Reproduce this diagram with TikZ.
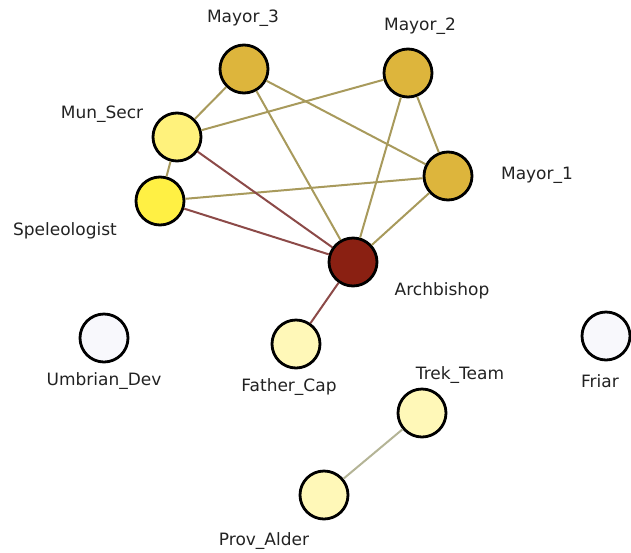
\documentclass[tikz,border=0pt]{standalone}
\usepackage{fontspec}
\usepackage{tikz}
\newfontfamily\lblfont{DejaVu Sans}

\definecolor{mayorgold}{HTML}{DDB53C}
\definecolor{secyellow}{HTML}{FFF27C}
\definecolor{speyellow}{HTML}{FFF044}
\definecolor{archred}{HTML}{8A2012}
\definecolor{paleyellow}{HTML}{FFF8B8}
\definecolor{offwhite}{HTML}{F8F8FC}
\definecolor{olivelink}{HTML}{A89A5C}
\definecolor{maroonlink}{HTML}{8C4A48}
\definecolor{greylink}{HTML}{B4B496}
\definecolor{lbltext}{HTML}{222222}

\begin{document}
\begin{tikzpicture}[x=1pt,y=-1pt]
    \tikzstyle{every node}+=[inner sep=0pt]
    \tikzstyle{actor}=[circle, draw=black, line width=2.8pt, minimum size=48pt]
    \tikzstyle{actorname}=[text=lbltext, font=\lblfont\fontsize{17}{19}\selectfont]
    \tikzstyle{tie}=[line width=2pt, olivelink]
    \tikzstyle{church}=[line width=2pt, maroonlink]
    \useasboundingbox (0,0) rectangle (631,552);
    % actors
    \node [actor, fill=mayorgold] (mayor3) at (244,69) {};
    \node [actor, fill=mayorgold] (mayor2) at (408,73) {};
    \node [actor, fill=mayorgold] (mayor1) at (448,176) {};
    \node [actor, fill=secyellow] (munsecr) at (177,137) {};
    \node [actor, fill=speyellow] (speleo) at (160,201) {};
    \node [actor, fill=archred] (archb) at (353,262) {};
    \node [actor, fill=offwhite] (umbdev) at (104,338) {};
    \node [actor, fill=paleyellow] (fathercap) at (296,344) {};
    \node [actor, fill=offwhite] (friar) at (606,336) {};
    \node [actor, fill=paleyellow] (trek) at (422,413) {};
    \node [actor, fill=paleyellow] (provald) at (324,495) {};
    % names
    \node [actorname] (mayor3l) at (243,18) {Mayor\_3};
    \node [actorname] (mayor2l) at (420,26) {Mayor\_2};
    \node [actorname] (mayor1l) at (537,175) {Mayor\_1};
    \node [actorname] (munsecrl) at (102,114) {Mun\_Secr};
    \node [actorname] (speleol) at (65,231) {Speleologist};
    \node [actorname] (archbl) at (442,291) {Archbishop};
    \node [actorname] (umbdevl) at (104,381) {Umbrian\_Dev};
    \node [actorname] (fathercapl) at (289,387) {Father\_Cap};
    \node [actorname] (friarl) at (600,381) {Friar};
    \node [actorname] (trekl) at (460,375) {Trek\_Team};
    \node [actorname] (provaldl) at (264,541) {Prov\_Alder};
    % ties
    \draw [tie] (mayor3) -- (munsecr);
    \draw [tie] (mayor3) -- (archb);
    \draw [tie] (mayor3) -- (mayor1);
    \draw [tie] (mayor2) -- (munsecr);
    \draw [tie] (mayor2) -- (archb);
    \draw [tie] (mayor2) -- (mayor1);
    \draw [tie] (munsecr) -- (speleo);
    \draw [tie] (speleo) -- (mayor1);
    \draw [tie] (mayor1) -- (archb);
    \draw [church] (munsecr) -- (archb);
    \draw [church] (speleo) -- (archb);
    \draw [church] (archb) -- (fathercap);
    \draw [tie, greylink] (trek) -- (provald);
\end{tikzpicture}
\end{document}
